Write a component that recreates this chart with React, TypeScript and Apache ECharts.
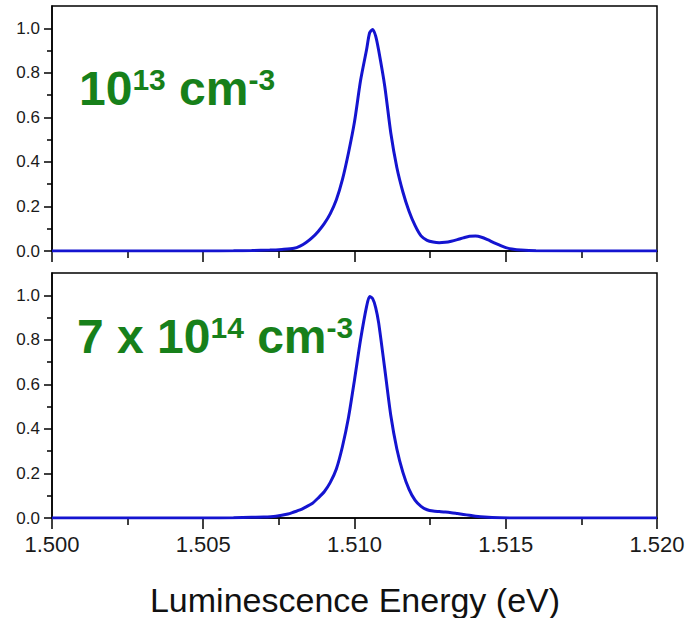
import React, { useEffect, useRef } from "react";
import * as echarts from "echarts";

const energyTop = [1.5, 1.505, 1.506, 1.5066, 1.5072, 1.5076, 1.508, 1.5082, 1.5084, 1.5086, 1.5088, 1.509, 1.5092, 1.5094, 1.5096, 1.5098, 1.51, 1.5102, 1.5104, 1.5105, 1.5106, 1.5107, 1.5108, 1.511, 1.5112, 1.5114, 1.5116, 1.5118, 1.512, 1.5122, 1.5124, 1.5126, 1.5128, 1.513, 1.5132, 1.5134, 1.5136, 1.5138, 1.514, 1.5142, 1.5144, 1.5146, 1.5148, 1.515, 1.5152, 1.5155, 1.516, 1.52];
const valuesTop = [0, 0, 0.001, 0.002, 0.004, 0.007, 0.012, 0.022, 0.038, 0.06, 0.088, 0.123, 0.168, 0.23, 0.32, 0.44, 0.58, 0.765, 0.905, 0.98, 0.995, 0.965, 0.9, 0.74, 0.53, 0.375, 0.265, 0.18, 0.115, 0.068, 0.048, 0.04, 0.037, 0.039, 0.044, 0.051, 0.059, 0.066, 0.067, 0.062, 0.051, 0.038, 0.026, 0.015, 0.009, 0.004, 0.001, 0];

const energyBottom = [1.5, 1.505, 1.506, 1.5066, 1.507, 1.5074, 1.5078, 1.508, 1.5082, 1.5084, 1.5086, 1.5088, 1.509, 1.5092, 1.5094, 1.5096, 1.5098, 1.51, 1.5102, 1.5104, 1.5105, 1.5106, 1.5107, 1.5108, 1.511, 1.5112, 1.5114, 1.5116, 1.5118, 1.512, 1.5122, 1.5124, 1.5126, 1.5128, 1.513, 1.5132, 1.5134, 1.5136, 1.5138, 1.514, 1.5143, 1.5148, 1.5155, 1.52];
const valuesBottom = [0, 0, 0.001, 0.003, 0.004, 0.008, 0.018, 0.027, 0.036, 0.05, 0.065, 0.09, 0.118, 0.16, 0.22, 0.32, 0.45, 0.62, 0.8, 0.95, 0.995, 0.985, 0.945, 0.875, 0.67, 0.46, 0.31, 0.205, 0.13, 0.08, 0.052, 0.037, 0.031, 0.029, 0.027, 0.024, 0.02, 0.016, 0.012, 0.008, 0.004, 0.001, 0, 0];

const yMajorTicks = [0, 0.2, 0.4, 0.6, 0.8, 1.0];
const yMinorTicks = [0.1, 0.3, 0.5, 0.7, 0.9];
const xTitle = "Luminescence Energy (eV)";

const FONT = "Liberation Sans, Arial, sans-serif";
const GREEN = "#17801a";
const LINE = "#1414d0";

export default function App() {
  const ref = useRef<HTMLDivElement>(null);
  useEffect(() => {
    const chart = echarts.init(ref.current!, null, { renderer: "svg" });
    const grids = [
      { left: 52, top: 6, width: 605, height: 245 },
      { left: 52, top: 273, width: 605, height: 245 },
    ];
    const xAxis = [0, 1].map((i) => ({
      type: "value",
      gridIndex: i,
      min: 1.5,
      max: 1.52,
      interval: 0.005,
      axisLine: { show: true, onZero: false, lineStyle: { color: "#000", width: 1.5 } },
      axisTick: { show: true, length: 11, lineStyle: { color: "#000", width: 1.5 } },
      minorTick: { show: true, splitNumber: 2, length: 7, lineStyle: { color: "#000", width: 1.5 } },
      splitLine: { show: false },
      axisLabel: {
        show: i === 1,
        fontSize: 22,
        color: "#1a1a1a",
        fontFamily: FONT,
        margin: 15,
        formatter: (v: number) => v.toFixed(3),
      },
    }));
    const yAxis: any[] = [];
    [0, 1].forEach((i) => {
      yAxis.push({
        type: "value",
        gridIndex: i,
        position: "left",
        min: 0,
        max: 1.1,
        interval: 0.2,
        axisLine: { show: true, lineStyle: { color: "#000", width: 1.5 } },
        axisTick: { show: true, length: 8, customValues: yMajorTicks, lineStyle: { color: "#000", width: 1.5 } },
        axisLabel: {
          show: true,
          customValues: yMajorTicks,
          fontSize: 17,
          color: "#1a1a1a",
          fontFamily: FONT,
          margin: 12,
          formatter: (v: number) => v.toFixed(1),
        },
        splitLine: { show: false },
      });
      yAxis.push({
        type: "value",
        gridIndex: i,
        position: "left",
        min: 0,
        max: 1.1,
        interval: 0.2,
        axisLine: { show: false },
        axisTick: { show: true, length: 5, customValues: yMinorTicks, lineStyle: { color: "#000", width: 1.5 } },
        axisLabel: { show: false },
        splitLine: { show: false },
      });
    });
    const richStyle = {
      n: { fontSize: 48, fontWeight: "bold", fontFamily: FONT, fill: GREEN, color: GREEN, lineHeight: 48, verticalAlign: "bottom" },
      s: { fontSize: 30, fontWeight: "bold", fontFamily: FONT, fill: GREEN, color: GREEN, lineHeight: 30, verticalAlign: "top" },
    };
    chart.setOption({
      animation: false,
      backgroundColor: "#fff",
      grid: grids.map((g) => ({ ...g, show: true, borderColor: "#000", borderWidth: 1.5, backgroundColor: "transparent" })),
      xAxis,
      yAxis,
      series: [
        {
          type: "line",
          xAxisIndex: 0,
          yAxisIndex: 0,
          data: energyTop.map((e, k) => [e, valuesTop[k]]),
          showSymbol: false,
          smooth: 0.25,
          lineStyle: { color: LINE, width: 3 },
          z: 5,
        },
        {
          type: "line",
          xAxisIndex: 1,
          yAxisIndex: 2,
          data: energyBottom.map((e, k) => [e, valuesBottom[k]]),
          showSymbol: false,
          smooth: 0.25,
          lineStyle: { color: LINE, width: 3 },
          z: 5,
        },
      ],
      graphic: [
        {
          type: "text",
          x: 79,
          y: 64,
          style: {
            text: "{n|10}{s|13}{n| cm}{s|-3}",
            rich: richStyle,
            verticalAlign: "top",
          },
        },
        {
          type: "text",
          x: 77,
          y: 312,
          style: {
            text: "{n|7 x 10}{s|14}{n| cm}{s|-3}",
            rich: richStyle,
            verticalAlign: "top",
          },
        },
        {
          type: "text",
          x: 355,
          y: 600,
          style: {
            text: xTitle,
            fontSize: 34,
            fontFamily: FONT,
            fill: "#111",
            align: "center",
            verticalAlign: "middle",
          },
        },
      ],
    });
    return () => chart.dispose();
  }, []);
  return <div ref={ref} style={{ position: "fixed", left: 0, top: 0, width: 688, height: 618 }} />;
}
